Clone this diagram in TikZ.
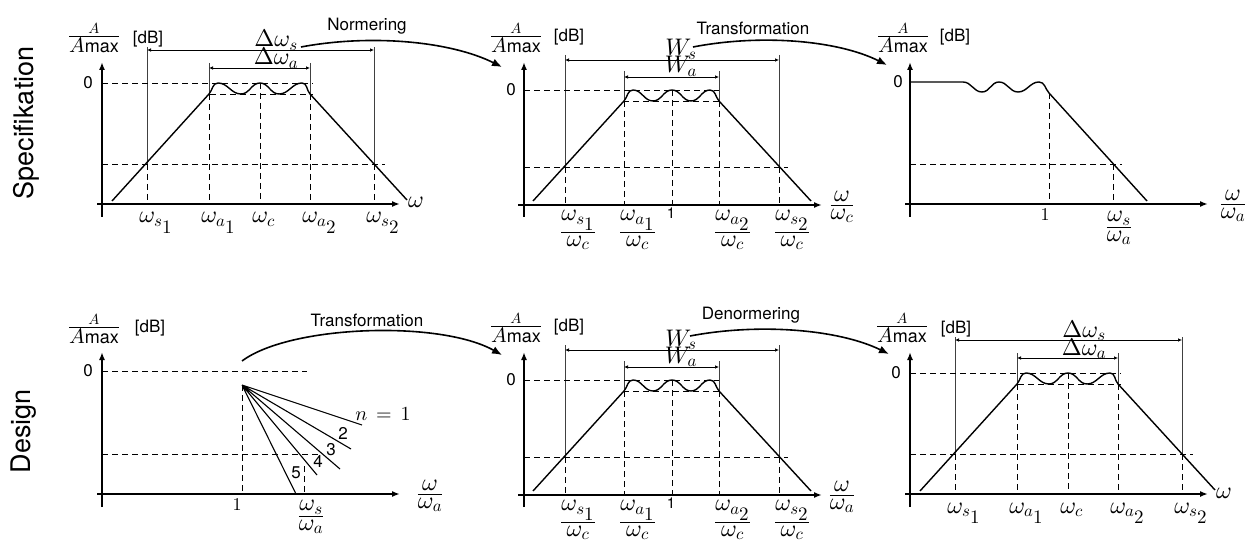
\documentclass[tikz,border=0pt]{standalone}
\usepackage{amsmath,mathtools}
\usepackage[no-math]{fontspec}
\setmainfont{TeX Gyre Heros}
\DeclareFontShape{OT1}{cmr}{m}{n}{<->cmr10}{}
\DeclareFontShape{OML}{cmm}{m}{it}{<->cmmi10}{}
\DeclareFontShape{OMS}{cmsy}{m}{n}{<->cmsy10}{}
\DeclareFontShape{OMX}{cmex}{m}{n}{<->cmex10}{}
\usetikzlibrary{arrows.meta}
\tikzset{
  axis/.style={line width=1.7pt,-{Latex[length=8pt,width=6pt]}},
  curve/.style={line width=1.4pt,line join=round},
  dsh/.style={line width=0.9pt,dash pattern=on 6pt off 4pt},
  guide/.style={line width=0.7pt,black!75},
  dim/.style={line width=0.7pt,{Latex[length=4pt,width=3.5pt]}-{Latex[length=4pt,width=3.5pt]}},
  flow/.style={line width=1.6pt,-{Latex[length=10pt,width=8pt]}},
  mlab/.style={font=\fontsize{24}{28}\selectfont,inner sep=0pt},
  ylabsty/.style={font=\fontsize{21}{25}\selectfont,inner sep=0pt,anchor=base},
  slab/.style={font=\fontsize{18}{21}\selectfont,inner sep=0pt},
  onesans/.style={font=\fontsize{15}{18}\selectfont,inner sep=0pt},
  tlab/.style={font=\fontsize{17}{20}\selectfont,inner sep=0pt},
  side/.style={font=\fontsize{27}{30}\selectfont,rotate=90,inner sep=0pt},
}
\newcommand{\subone}[1]{\mbox{\fontsize{19}{22}\selectfont$#1$}}
\newcommand{\wsubb}[2]{\omega_{\mathrlap{#1_{\subone{#2}}}}}
\newcommand{\tfr}[2]{\frac{\textstyle #1}{\textstyle #2}}
\newcommand{\fwsubb}[3]{\tfr{\omega_{#1_{\subone{#2}}}}{\omega_{#3}}}
\newcommand{\amaxfrac}{$\frac{A}{\textstyle A\mbox{\fontsize{18}{21}\selectfont max}}$}
% band-pass with Delta-omega labels (panel 1 coordinates)
\newcommand{\bandDelta}[1]{%
  \draw[guide] (147,47) -- (147,164) (374,47) -- (374,164) (209,63) -- (209,94) (310,63) -- (310,94);
  \draw[dsh] (102,83) -- (313,83) (210,94) -- (313,94) (102,164) -- (385,164)
     (147,164) -- (147,204) (374,164) -- (374,204) (209,94) -- (209,204) (310,94) -- (310,204) (260,83) -- (260,204);
  \draw[dim] (147,50) -- (374,50);
  \draw[dim] (209,68) -- (310,68);
  \draw[curve] (112,201) -- (209,94) to[out=48,in=180] (218,83) to[out=0,in=180] (241,94) to[out=0,in=180] (260,83)
     to[out=0,in=180] (279,94) to[out=0,in=180] (302,83) to[out=0,in=132] (310,94) -- (407,200);
  \draw[axis] (102,217) -- (102,62);
  \draw[axis] (97,204) -- (400,204);
  \node[tlab] (#1zero) at (88,83) {0};
  \node[ylabsty] (#1ylab) at (94,42) {\amaxfrac};
  \node[tlab] (#1db) at (148,39) {[dB]};
  \node[mlab,anchor=base west] (#1xlab) at (408,208) {$\omega$};
  \node[mlab,anchor=base] (#1ds) at (276,47) {$\Delta\omega_s$};
  \node[mlab,anchor=base] (#1da) at (276,65) {$\Delta\omega_a$};
  \node[mlab,anchor=base] (#1t1) at (147,223) {$\wsubb{s}{1}$};
  \node[mlab,anchor=base] (#1t2) at (209,223) {$\wsubb{a}{1}$};
  \node[mlab,anchor=base] (#1t3) at (260,223) {$\omega_{\mathrlap{c}}$};
  \node[mlab,anchor=base] (#1t4) at (310,223) {$\wsubb{a}{2}$};
  \node[mlab,anchor=base] (#1t5) at (374,223) {$\wsubb{s}{2}$};
}
% normalised band-pass (panel 2 coordinates)
\newcommand{\bandNorm}[2]{%
  \draw[guide] (565,55) -- (565,167) (779,55) -- (779,167) (624,71) -- (624,101) (719,71) -- (719,101);
  \draw[dsh] (524,90) -- (719,90) (623,101) -- (719,101) (524,167) -- (788,167)
     (565,167) -- (565,205) (779,167) -- (779,205) (624,101) -- (624,205) (719,101) -- (719,205) (672,90) -- (672,205);
  \draw[dim] (565,60) -- (779,60);
  \draw[dim] (624,77) -- (719,77);
  \draw[curve] (533,201) -- (624,101) to[out=48,in=180] (633,90) to[out=0,in=180] (653,101) to[out=0,in=180] (672,90)
     to[out=0,in=180] (691,101) to[out=0,in=180] (710,90) to[out=0,in=132] (719,101) -- (811,201);
  \draw[axis] (524,217) -- (524,62);
  \draw[axis] (518,205) -- (822,205);
  \node[tlab] (#1zero) at (511,90) {0};
  \node[ylabsty] (#1ylab) at (516,42) {\amaxfrac};
  \node[tlab] (#1db) at (569,37) {[dB]};
  \node[mlab,anchor=base] (#1xlab) at (842,211) {$\tfr{\omega}{\omega_#2}$};
  \node[mlab,anchor=base] (#1ws) at (681,56) {$W_s$};
  \node[mlab,anchor=base] (#1wa) at (681,73) {$W_a$};
  \node[onesans] (#1one) at (671,213) {1};
  \node[mlab,anchor=base west] (#1t1) at (560,238) {$\fwsubb{s}{1}{c}$};
  \node[mlab,anchor=base west] (#1t2) at (619,238) {$\fwsubb{a}{1}{c}$};
  \node[mlab,anchor=base west] (#1t4) at (714,238) {$\fwsubb{a}{2}{c}$};
  \node[mlab,anchor=base west] (#1t5) at (774,238) {$\fwsubb{s}{2}{c}$};
}
\begin{document}
\begin{tikzpicture}[x=1pt,y=-1pt]
\useasboundingbox[fill=white] (0,0) rectangle (1256,548);

% side titles
\node[side] (spec) at (26,123) {Specifikation};
\node[side] (design) at (24,431) {Design};

% panel 1
\bandDelta{p1}
% panel 2
\bandNorm{p2}{c}
% panel 5
\begin{scope}[shift={(0,290)}]
\bandNorm{p5}{a}
\end{scope}
% panel 6
\begin{scope}[shift={(808,290)}]
\bandDelta{p6}
\end{scope}

% panel 3: low-pass prototype
\draw[dsh] (1049,93) -- (1049,204) (910,164) -- (1122,164) (1113,164) -- (1113,204);
\draw[curve] (910,82) -- (963,82) to[out=0,in=180] (982,92) to[out=0,in=180] (999,82) to[out=0,in=180] (1018,92)
   to[out=0,in=180] (1039,82) to[out=0,in=132] (1049,93) -- (1147,201);
\draw[axis] (910,217) -- (910,62);
\draw[axis] (905,204) -- (1208,204);
\node[tlab] (p3zero) at (898,82) {0};
\node[ylabsty] (p3ylab) at (903,42) {\amaxfrac};
\node[tlab] (p3db) at (955,37) {[dB]};
\node[slab] (p3one) at (1045,215) {$1$};
\node[mlab,anchor=base] (p3ws) at (1119,233) {$\tfr{\omega_s}{\omega_a}$};
\node[mlab,anchor=base] (p3xlab) at (1233,210) {$\tfr{\omega}{\omega_a}$};

% panel 4: design fan
\draw[dsh] (102,371) -- (307,371) (102,454) -- (318,454) (242,385) -- (242,494) (304,466) -- (304,494);
\coordinate (fan) at (242,385);
\coordinate (f1) at (362,425);
\coordinate (f2) at (351,449);
\coordinate (f3) at (340,469);
\coordinate (f4) at (317,475);
\coordinate (f5) at (296,494);
\draw[curve,line width=1.1pt] (fan) -- (f1) (fan) -- (f2) (fan) -- (f3) (fan) -- (f4) (fan) -- (f5);
\draw[axis] (102,507) -- (102,352);
\draw[axis] (97,494) -- (400,494);
\node[tlab] (p4zero) at (88,371) {0};
\node[ylabsty] (p4ylab) at (94,333) {\amaxfrac};
\node[tlab] (p4db) at (150,328) {[dB]};
\node[slab] (p4one) at (237,505) {$1$};
\node[mlab,anchor=base] (p4ws) at (311,522) {$\tfr{\omega_s}{\omega_a}$};
\node[mlab,anchor=base] (p4xlab) at (430,500) {$\tfr{\omega}{\omega_a}$};
\node[mlab,font=\fontsize{20}{24}\selectfont] (n1) at (383,414) {$n\,=\,1$};
\node[tlab] (n2) at (343,433) {2};
\node[tlab] (n3) at (331,450) {3};
\node[tlab] (n4) at (318,461) {4};
\node[tlab] (n5) at (296,473) {5};

% flow arrows
\node[tlab] (norm) at (367,26) {Normering};
\node[tlab] (trans1) at (753,28) {Transformation};
\node[tlab] (trans2) at (367,320) {Transformation};
\node[tlab] (denorm) at (751,315) {Denormering};
\coordinate (a1s) at (301,47);
\coordinate (a1e) at (502,67);
\coordinate (a2s) at (693,47);
\coordinate (a2e) at (887,65);
\coordinate (a3s) at (242,361);
\coordinate (a3e) at (502,355);
\coordinate (a4s) at (690,336);
\coordinate (a4e) at (889,354);
\draw[flow] (a1s) .. controls (370,34) and (450,41) .. (a1e);
\draw[flow] (a2s) .. controls (760,34) and (837,40) .. (a2e);
\draw[flow] (a3s) .. controls (290,325) and (440,320) .. (a3e);
\draw[flow] (a4s) .. controls (758,323) and (838,329) .. (a4e);
\end{tikzpicture}
\end{document}
